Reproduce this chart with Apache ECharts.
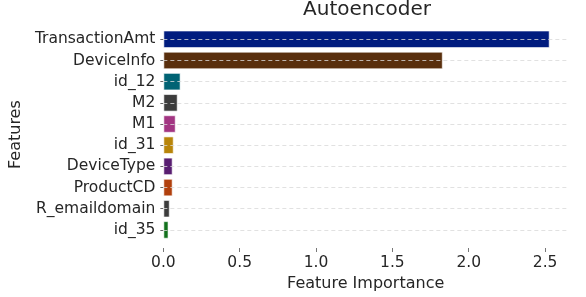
<!DOCTYPE html>
<html><head><meta charset="utf-8">
<script src="https://cdn.jsdelivr.net/npm/echarts@6/dist/echarts.min.js"></script>
<style>html,body{margin:0;padding:0;background:#fff}#c{width:586px;height:297px}</style>
</head><body><div id="c"></div>
<script>
const categories = ["TransactionAmt","DeviceInfo","id_12","M2","M1","id_31","DeviceType","ProductCD","R_emaildomain","id_35"];
const values = [2.53, 1.83, 0.113, 0.094, 0.081, 0.068, 0.061, 0.061, 0.042, 0.034];
const barColors = ["#001c7f","#592f0d","#006374","#3c3c3c","#a23582","#b8850a","#591e71","#b1400d","#3c3c3c","#12711c"];
const xTicks = [0, 0.5, 1.0, 1.5, 2.0, 2.5];
const titleText = "Autoencoder";
const xName = "Feature Importance";
const yName = "Features";

const font = "DejaVu Sans";
const chart = echarts.init(document.getElementById('c'), null, {renderer:'canvas'});
chart.setOption({
  animation:false,
  backgroundColor:'#fff',
  title:{text:titleText,left:362,textAlign:'center',top:-5,textStyle:{fontFamily:font,fontSize:20,fontWeight:'normal',color:'#262626'}},
  grid:{left:156,right:18,top:28.7,bottom:56.3},
  xAxis:{type:'value',min:0,max:2.65,interval:0.5,offset:7.5,
    name:xName,nameLocation:'middle',nameGap:28,
    nameTextStyle:{fontFamily:font,fontSize:16,color:'#262626'},
    axisLine:{show:false},
    axisTick:{show:true,length:4,customValues:xTicks,lineStyle:{color:'#777'}},
    axisLabel:{customValues:xTicks,fontFamily:font,fontSize:15.5,color:'#262626',margin:7,formatter:v=>v.toFixed(1)},
    splitLine:{show:false}},
  yAxis:{type:'category',data:categories,inverse:true,
    name:yName,nameLocation:'middle',nameGap:136,
    nameTextStyle:{fontFamily:font,fontSize:16,color:'#262626'},
    axisLine:{show:false},
    axisTick:{show:true,length:3,alignWithLabel:true,lineStyle:{color:'#666'}},
    axisLabel:{fontFamily:font,fontSize:15.5,color:'#262626',margin:8},
    splitLine:{show:false}},
  series:[{type:'bar',barCategoryGap:'17%',
    data:values.map((v,i)=>({value:v,itemStyle:{color:barColors[i]}})),
    itemStyle:{borderColor:'rgba(255,255,255,0.6)',borderWidth:1},
    markLine:{silent:true,symbol:'none',label:{show:false},
      lineStyle:{color:'#d9d9d9',type:[4,3],width:0.8},
      data:categories.map(c=>({yAxis:c}))}
  }]
});
</script></body></html>
